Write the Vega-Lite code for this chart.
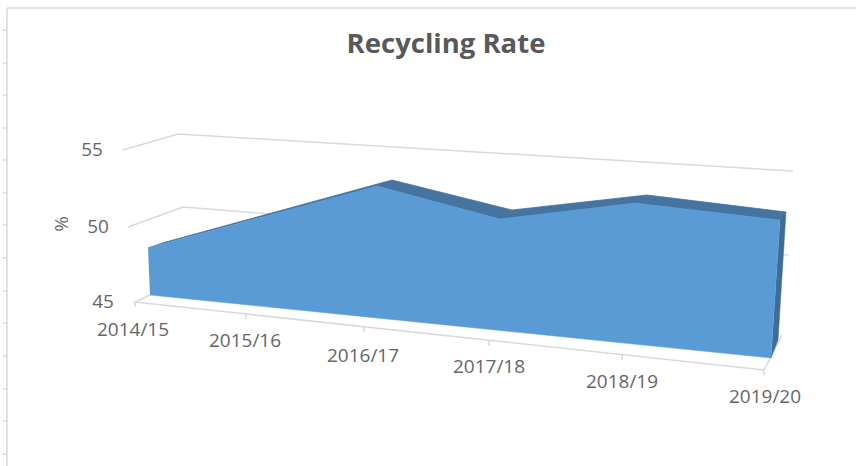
{
"$schema":"https://vega.github.io/schema/vega-lite/v6.json",
"width":856,"height":466,"padding":0,"autosize":"none","background":"white",
"title":{"text":"Recycling Rate","font":"Open Sans","fontSize":27.5,"fontWeight":"bold","color":"#595959","anchor":"middle","dx":18,"offset":-58},
"config":{"view":{"stroke":null}},
"datasets":{
"lines":[
{"line":"grid55","s":1,"pos":-0.2,"pct":54.667},{"line":"grid55","s":2,"pos":0.24,"pct":55.733},{"line":"grid55","s":3,"pos":5.16,"pct":53.267},
{"line":"grid50","s":1,"pos":-0.16,"pct":49.533},{"line":"grid50","s":2,"pos":0.28,"pct":50.867},{"line":"grid50","s":3,"pos":5.12,"pct":47.667},
{"line":"floor","s":1,"pos":0.016,"pct":45},{"line":"floor","s":2,"pos":-0.104,"pct":44.533},{"line":"floor","s":3,"pos":4.928,"pct":40},{"line":"floor","s":4,"pos":5.072,"pct":42.333},
{"line":"t0","s":1,"pos":-0.104,"pct":44.533},{"line":"t0","s":2,"pos":-0.104,"pct":44.2},
{"line":"t1","s":1,"pos":0.784,"pct":43.733},{"line":"t1","s":2,"pos":0.784,"pct":43.4},
{"line":"t2","s":1,"pos":1.728,"pct":42.867},{"line":"t2","s":2,"pos":1.728,"pct":42.533},
{"line":"t3","s":1,"pos":2.728,"pct":41.933},{"line":"t3","s":2,"pos":2.728,"pct":41.6},
{"line":"t4","s":1,"pos":3.792,"pct":41},{"line":"t4","s":2,"pos":3.792,"pct":40.667},
{"line":"t5","s":1,"pos":4.928,"pct":40},{"line":"t5","s":2,"pos":4.928,"pct":39.667},
{"line":"frameL","s":1,"pos":-1.128,"pct":64.133},{"line":"frameL","s":2,"pos":-1.128,"pct":33.6},
{"line":"frameT","s":1,"pos":-1.128,"pct":64.133},{"line":"frameT","s":2,"pos":5.664,"pct":64.133},
{"line":"r1","s":1,"pos":-1.16,"pct":62.667},{"line":"r1","s":2,"pos":-1.128,"pct":62.667},
{"line":"r2","s":1,"pos":-1.16,"pct":60.467},{"line":"r2","s":2,"pos":-1.128,"pct":60.467},
{"line":"r3","s":1,"pos":-1.16,"pct":58.333},{"line":"r3","s":2,"pos":-1.128,"pct":58.333},
{"line":"r4","s":1,"pos":-1.16,"pct":56.133},{"line":"r4","s":2,"pos":-1.128,"pct":56.133},
{"line":"r5","s":1,"pos":-1.16,"pct":54},{"line":"r5","s":2,"pos":-1.128,"pct":54},
{"line":"r6","s":1,"pos":-1.16,"pct":51.8},{"line":"r6","s":2,"pos":-1.128,"pct":51.8},
{"line":"r7","s":1,"pos":-1.16,"pct":49.667},{"line":"r7","s":2,"pos":-1.128,"pct":49.667},
{"line":"r8","s":1,"pos":-1.16,"pct":47.467},{"line":"r8","s":2,"pos":-1.128,"pct":47.467},
{"line":"r9","s":1,"pos":-1.16,"pct":45.267},{"line":"r9","s":2,"pos":-1.128,"pct":45.267},
{"line":"r10","s":1,"pos":-1.16,"pct":43.133},{"line":"r10","s":2,"pos":-1.128,"pct":43.133},
{"line":"r11","s":1,"pos":-1.16,"pct":40.933},{"line":"r11","s":2,"pos":-1.128,"pct":40.933},
{"line":"r12","s":1,"pos":-1.16,"pct":38.733},{"line":"r12","s":2,"pos":-1.128,"pct":38.733},
{"line":"r13","s":1,"pos":-1.16,"pct":36.6},{"line":"r13","s":2,"pos":-1.128,"pct":36.6},
{"line":"r14","s":1,"pos":-1.16,"pct":34.4},{"line":"r14","s":2,"pos":-1.128,"pct":34.4}
],
"ridge":[
{"s":1,"pos":0,"pct":48.133},{"s":2,"pos":0.128,"pct":48.5},{"s":3,"pos":1.952,"pct":52.667},{"s":4,"pos":2.912,"pct":50.667},{"s":5,"pos":3.992,"pct":51.667},{"s":6,"pos":5.104,"pct":50.533},
{"s":7,"pos":5.056,"pct":50},{"s":8,"pos":3.896,"pct":51.133},{"s":9,"pos":2.816,"pct":50.067},{"s":10,"pos":1.832,"pct":52.267},{"s":11,"pos":0.912,"pct":50.2}
],
"side":[
{"s":1,"pos":5.056,"pct":50},{"s":2,"pos":5.104,"pct":50.533},{"s":3,"pos":5.04,"pct":42},{"s":4,"pos":4.984,"pct":40.8}
],
"front":[
{"year":"2014/15","s":1,"pos":0,"pct":48.133},{"year":"2015/16","s":2,"pos":0.912,"pct":50.2},{"year":"2016/17","s":3,"pos":1.832,"pct":52.267},{"year":"2017/18","s":4,"pos":2.816,"pct":50.067},{"year":"2018/19","s":5,"pos":3.896,"pct":51.133},{"year":"2019/20","s":6,"pos":5.056,"pct":50},
{"year":"2019/20","s":7,"pos":4.984,"pct":40.8},{"year":"2014/15","s":8,"pos":0.016,"pct":45}
],
"labels":[
{"label":"2014/15","pos":-0.12,"pct":42.667},{"label":"2015/16","pos":0.776,"pct":41.933},{"label":"2016/17","pos":1.72,"pct":40.933},{"label":"2017/18","pos":2.728,"pct":40.2},{"label":"2018/19","pos":3.792,"pct":39.2},{"label":"2019/20","pos":4.936,"pct":38.2},
{"label":"55","pos":-0.448,"pct":54.667},{"label":"50","pos":-0.4,"pct":49.533},{"label":"45","pos":-0.36,"pct":44.533}
],
"unit":[{"label":"%","pos":-0.688,"pct":49.733}]
},
"encoding":{
"x":{"field":"pos","type":"quantitative","axis":null,"scale":{"domain":[-1.184,5.664],"nice":false,"zero":false}},
"y":{"field":"pct","type":"quantitative","axis":null,"scale":{"domain":[33.6,64.667],"nice":false,"zero":false}}
},
"layer":[
{"data":{"name":"lines"},"mark":{"type":"line","stroke":"#d9d9d9","strokeWidth":1.5,"clip":false},"encoding":{"detail":{"field":"line"},"order":{"field":"s","type":"quantitative"}}},
{"data":{"name":"ridge"},"mark":{"type":"line","stroke":"#44749f","strokeWidth":0.8,"fill":"#44749f"},"encoding":{"order":{"field":"s","type":"quantitative"}}},
{"data":{"name":"side"},"mark":{"type":"line","stroke":"#3d6c95","strokeWidth":0.5,"fill":"#3d6c95"},"encoding":{"order":{"field":"s","type":"quantitative"}}},
{"data":{"name":"front"},"mark":{"type":"line","stroke":"#5b9bd5","strokeWidth":0.5,"fill":"#5b9bd5"},"encoding":{"order":{"field":"s","type":"quantitative"}}},
{"data":{"name":"labels"},"mark":{"type":"text","font":"Open Sans","fontSize":19,"fill":"#666666","align":"center","baseline":"middle"},"encoding":{"text":{"field":"label"}}},
{"data":{"name":"unit"},"mark":{"type":"text","font":"Open Sans","fontSize":19,"fill":"#666666","align":"center","baseline":"middle","angle":270},"encoding":{"text":{"field":"label"}}}
]
}
